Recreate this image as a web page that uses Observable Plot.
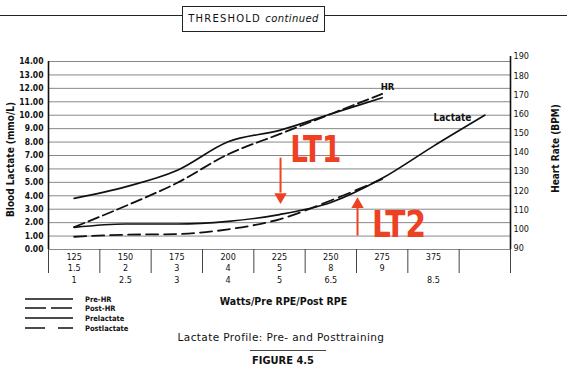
<!DOCTYPE html>
<html><head><meta charset="utf-8">
<script src="https://cdn.jsdelivr.net/npm/d3@7"></script>
<script src="https://cdn.jsdelivr.net/npm/@observablehq/plot@0.6"></script>
<style>
body{margin:0;background:#fff;}
#page{position:relative;width:567px;height:376px;overflow:hidden;background:#fff;font-family:"DejaVu Sans Condensed","DejaVu Sans",sans-serif;color:#111;}
#rule{position:absolute;left:0;top:15px;width:567px;height:0;border-top:1.3px solid #222;}
#box{position:absolute;left:182px;top:6px;width:141px;height:24px;border:1.3px solid #222;background:#fff;font-family:"DejaVu Sans",sans-serif;font-size:10px;line-height:24px;text-align:center;letter-spacing:1.2px;white-space:nowrap;}
#box i{letter-spacing:0.4px;}
#chart{position:absolute;left:0;top:40px;}
#legend{position:absolute;left:0;top:290px;}
#caption{position:absolute;left:131px;width:300px;top:331px;text-align:center;font-family:"DejaVu Sans",sans-serif;font-size:10.5px;letter-spacing:0.4px;white-space:nowrap;}
#figrule{position:absolute;left:250px;top:350px;width:76px;border-top:1px solid #444;}
#fig{position:absolute;left:133px;width:300px;top:354px;text-align:center;font-weight:bold;font-size:11px;white-space:nowrap;}
</style></head>
<body>
<div id="page">
  <div id="rule"></div>
  <div id="box">THRESHOLD <i>continued</i></div>
  <div id="chart"></div>
  <div id="legend"></div>
  <div id="caption">Lactate Profile: Pre- and Posttraining</div>
  <div id="figrule"></div>
  <div id="fig">FIGURE 4.5</div>
</div>
<script>
// ---- data ----
const watts   = ["125","150","175","200","225","250","275","375",""];
const preRPE  = ["1.5","2","3","4","5","8","9","",""];
const postRPE = ["1","2.5","3","4","5","6.5","","8.5",""];
const preHR   = [116,122,130.5,145.5,151.5,160,168.5];
const postHR  = [101,112,124,139,149.5,160,170.5];
const preLactate  = [1.65,1.9,1.9,2.1,2.6,3.5,5.3,7.7,10.0];
const postLactate = [0.95,1.1,1.15,1.5,2.25,3.65,5.25];
const lactateTicks = d3.range(0,15);
const hrTicks = d3.range(90,200,10);
const legendNames = ["Pre-HR","Post-HR","Prelactate","Postlactate"];

// secondary (heart-rate) axis mapped onto the lactate scale
const hrToY = hr => 0.1 + (hr - 90) * 0.1427;
const yToHr = v => Math.round((v - 0.1) / 0.1427 + 90);

const pos = i => i + 0.5;
const mk = (arr, f) => arr.map((v, i) => ({x: pos(i), y: f ? f(v) : v}));
const preHRpts = mk(preHR, hrToY), postHRpts = mk(postHR, hrToY);
const preLpts = mk(preLactate), postLpts = mk(postLactate);

const RED = "#ee4123";
const FONT = '"DejaVu Sans Condensed","DejaVu Sans",sans-serif';
const dashes = [null, "11,4.5", null, "12,6"];

const chart = Plot.plot({
  width: 567, height: 336,
  marginTop: 21, marginBottom: 127, marginLeft: 48, marginRight: 57,
  style: {fontFamily: FONT, fontSize: "9px", color: "#111", background: "transparent"},
  x: {domain: [0, watts.length]},
  y: {domain: [0, 14]},
  marks: [
    Plot.ruleY(lactateTicks, {stroke: "#888", strokeWidth: 1}),
    Plot.ruleX([0], {y1: 0, y2: 14, stroke: "#111", strokeWidth: 1.6}),
    Plot.ruleX([watts.length], {y1: 0, y2: hrToY(190), stroke: "#111", strokeWidth: 1.6}),
    Plot.axisX(d3.range(0, watts.length + 1), {tickSize: 24, tickFormat: () => "", stroke: "#444", label: null}),
    Plot.axisY(lactateTicks, {anchor: "left", tickSize: 0, tickPadding: 5, tickFormat: d => d.toFixed(2), fontSize: 8.5, fontWeight: "bold", label: null}),
    Plot.axisY(hrTicks.map(hrToY), {anchor: "right", tickSize: 0, tickPadding: 3, tickFormat: yToHr, fontSize: 9, label: null}),
    // category rows
    Plot.text(watts, {x: (d, i) => pos(i), frameAnchor: "bottom", dy: 10, text: d => d, fontSize: 9}),
    Plot.text(preRPE, {x: (d, i) => pos(i), frameAnchor: "bottom", dy: 21, text: d => d, fontSize: 9}),
    Plot.text(postRPE, {x: (d, i) => pos(i), frameAnchor: "bottom", dy: 33, text: d => d, fontSize: 9}),
    Plot.text(["Watts/Pre RPE/Post RPE"], {frameAnchor: "bottom", dy: 55, dx: 4, fontWeight: "bold", fontSize: 10.5}),
    // axis titles
    Plot.text(["Blood Lactate (mmo/L)"], {frameAnchor: "left", textAnchor: "middle", dx: -38, dy: 4, rotate: -90, fontWeight: "bold", fontSize: 10}),
    Plot.text(["Heart Rate (BPM)"], {frameAnchor: "right", textAnchor: "middle", dx: 45, dy: -7, rotate: -90, fontWeight: "bold", fontSize: 10}),
    // series
    Plot.line(preHRpts, {x: "x", y: "y", stroke: "#111", strokeWidth: 1.7, curve: "monotone-x"}),
    Plot.line(postHRpts, {x: "x", y: "y", stroke: "#111", strokeWidth: 1.8, strokeDasharray: dashes[1], curve: "monotone-x"}),
    Plot.line(preLpts, {x: "x", y: "y", stroke: "#111", strokeWidth: 1.7, curve: "monotone-x"}),
    Plot.line(postLpts, {x: "x", y: "y", stroke: "#111", strokeWidth: 1.8, strokeDasharray: dashes[3], curve: "monotone-x"}),
    // line labels
    Plot.text(["HR"], {x: 6.47, y: 12.1, text: d => d, textAnchor: "start", fontWeight: "bold", fontSize: 9.5}),
    Plot.text(["Lactate"], {x: 7.5, y: 9.8, text: d => d, textAnchor: "start", fontWeight: "bold", fontSize: 10}),
    // threshold annotations
    Plot.text(["LT1"], {x: 4.71, y: 6.55, text: d => d, textAnchor: "start", lineAnchor: "bottom", fill: RED, fontWeight: "bold", fontSize: 38}),
    Plot.text(["LT2"], {x: 6.3, y: 0.9, text: d => d, textAnchor: "start", lineAnchor: "bottom", fill: RED, fontWeight: "bold", fontSize: 38}),
    Plot.ruleX([4.52], {y1: 6.8, y2: 4.2, stroke: RED, strokeWidth: 2}),
    Plot.dot([4.52], {x: d => d, y: 3.92, symbol: "triangle", r: 4.6, rotate: 180, fill: RED, stroke: null}),
    Plot.ruleX([6.02], {y1: 1.0, y2: 3.1, stroke: RED, strokeWidth: 2}),
    Plot.dot([6.02], {x: d => d, y: 3.35, symbol: "triangle", r: 4.6, fill: RED, stroke: null})
  ]
});
document.getElementById("chart").appendChild(chart);

// narrow the big threshold labels to the condensed width of the original
d3.select(chart).selectAll("text").each(function() {
  const t = this.textContent;
  if (t === "LT1") d3.select(this).attr("textLength", 51).attr("lengthAdjust", "spacingAndGlyphs");
  if (t === "LT2") d3.select(this).attr("textLength", 54).attr("lengthAdjust", "spacingAndGlyphs");
});

// legend
const lg = d3.select("#legend").append("svg").attr("width", 160).attr("height", 50)
  .style("font-family", FONT).style("font-size", "7.5px").style("font-weight", "bold");
const rowY = [9, 18, 28, 38];
legendNames.forEach((name, i) => {
  const l = lg.append("line").attr("x1", 25).attr("x2", 73).attr("y1", rowY[i]).attr("y2", rowY[i])
    .attr("stroke", "#111").attr("stroke-width", 1.6);
  if (i === 1) l.attr("stroke-dasharray", "21,5");
  if (i === 3) l.attr("stroke-dasharray", "20,13");
  lg.append("text").attr("x", 85).attr("y", rowY[i]).attr("dy", "0.35em").attr("fill", "#111").text(name);
});
</script>
</body></html>
